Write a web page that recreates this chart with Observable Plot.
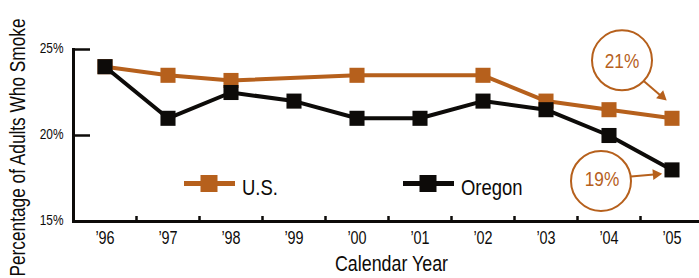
<!DOCTYPE html>
<html>
<head>
<meta charset="utf-8">
<script src="https://cdn.jsdelivr.net/npm/d3@7"></script>
<script src="https://cdn.jsdelivr.net/npm/@observablehq/plot@0.6"></script>
<style>
  html, body { margin: 0; padding: 0; background: #fff; }
  #wrap { position: relative; width: 699px; height: 278px; overflow: hidden; }
  #wrap svg { display: block; }
  #legend { position: absolute; left: 0; top: 0; pointer-events: none; }
</style>
</head>
<body>
<div id="wrap"></div>
<script>
// ---- data ----
const years = [1996, 1997, 1998, 1999, 2000, 2001, 2002, 2003, 2004, 2005];
const oregonValues = [24, 21, 22.5, 22, 21, 21, 22, 21.5, 20, 18];
const usYears = [1996, 1997, 1998, 2000, 2002, 2003, 2004, 2005];
const usValues = [24, 23.5, 23.2, 23.5, 23.5, 22, 21.5, 21];
const yTicks = [15, 20, 25];
const seriesNames = ["U.S.", "Oregon"];
const calloutLabels = ["21%", "19%"];
const xTitle = "Calendar Year";
const yTitle = "Percentage of Adults Who Smoke";

// ---- styles ----
const FONT = "'Liberation Sans', Arial, sans-serif";
const SQUEEZE = 0.82; // emulate a condensed face
const ORANGE = "#b6601c";
const BLACK = "#0d0b09";

const us = usYears.map((y, i) => ({year: y, value: usValues[i]}));
const oregon = years.map((y, i) => ({year: y, value: oregonValues[i]}));
const boundaries = years.slice(0, -1).map(y => y + 0.5);
const usLast = us[us.length - 1];
const orLast = oregon[oregon.length - 1];

const xDomain = [years[0] - 0.5, years[years.length - 1] + 0.5];
const xRange = [73, 703];
const yDomain = [15, 25];
const pxX = (xDomain[1] - xDomain[0]) / (xRange[1] - xRange[0]);
const pxY = (yDomain[1] - yDomain[0]) / (221 - 49);

const chart = Plot.plot({
  width: 699,
  height: 278,
  marginLeft: 73,
  marginRight: 0,
  marginTop: 49,
  marginBottom: 57,
  style: {fontFamily: FONT, color: BLACK, background: "#fff", overflow: "visible"},
  x: {domain: xDomain, range: xRange},
  y: {domain: yDomain},
  marks: [
    Plot.frame({anchor: "left", stroke: BLACK, strokeWidth: 3}),
    Plot.frame({anchor: "bottom", stroke: BLACK, strokeWidth: 3}),
    Plot.tickY([20, 25], {y: d => d, stroke: BLACK, strokeWidth: 2.5, insetRight: 699 - 73 - 17}),
    Plot.tickX(boundaries, {x: d => d, stroke: BLACK, strokeWidth: 2.5, insetTop: 172 - 5}),
    Plot.axisY({ticks: yTicks, tickFormat: d => d + "%", tickSize: 0, tickPadding: 10, fontSize: 14.5, label: null, dy: -1}),
    Plot.axisX({ticks: years, tickFormat: d => "\u2019" + String(d).slice(2), tickSize: 0, tickPadding: 10, fontSize: 17.5, label: null}),
    Plot.text([xTitle], {frameAnchor: "bottom", textAnchor: "middle", lineAnchor: "middle", dy: 43, dx: 5, fontSize: 21.5, fill: BLACK}),
    Plot.text([yTitle], {frameAnchor: "left", textAnchor: "start", lineAnchor: "middle", rotate: -90, dx: -56, dy: 141, fontSize: 22.5, fill: BLACK}),
    // series
    Plot.line(us, {x: "year", y: "value", stroke: ORANGE, strokeWidth: 4}),
    Plot.dot(us, {x: "year", y: "value", symbol: "square", r: 8.5, fill: ORANGE, stroke: "none"}),
    Plot.line(oregon, {x: "year", y: "value", stroke: BLACK, strokeWidth: 4}),
    Plot.dot(oregon, {x: "year", y: "value", symbol: "square", r: 8.5, fill: BLACK, stroke: "none"}),
    // callout: U.S.
    Plot.dot([usLast], {x: "year", y: "value", r: 30, stroke: ORANGE, strokeWidth: 2, fill: "none", dx: -50, dy: -58}),
    Plot.text([usLast], {x: "year", y: "value", text: () => calloutLabels[0], fill: ORANGE, fontSize: 21, dx: -50, dy: -57}),
    Plot.link([usLast], {
      x1: d => d.year - 28 * pxX, y1: d => d.value + 37 * pxY,
      x2: d => d.year - 10 * pxX, y2: d => d.value + 21.5 * pxY,
      stroke: ORANGE, strokeWidth: 2
    }),
    Plot.dot([usLast], {x: "year", y: "value", symbol: "triangle", r: 4, fill: ORANGE, stroke: "none", rotate: 131, dx: -10, dy: -22}),
    // callout: Oregon
    Plot.dot([orLast], {x: "year", y: "value", r: 30, stroke: ORANGE, strokeWidth: 2, fill: "none", dx: -71, dy: 11}),
    Plot.text([orLast], {x: "year", y: "value", text: () => calloutLabels[1], fill: ORANGE, fontSize: 21, dx: -70, dy: 9}),
    Plot.link([orLast], {
      x1: d => d.year - 41 * pxX, y1: d => d.value - 6.5 * pxY,
      x2: d => d.year - 18 * pxX, y2: d => d.value - 4.5 * pxY,
      stroke: ORANGE, strokeWidth: 2
    }),
    Plot.dot([orLast], {x: "year", y: "value", symbol: "triangle", r: 4, fill: ORANGE, stroke: "none", rotate: 85, dx: -16, dy: 4.5})
  ]
});

const wrap = document.getElementById("wrap");
wrap.appendChild(chart);

// legend overlay
const ns = "http://www.w3.org/2000/svg";
const leg = document.createElementNS(ns, "svg");
leg.setAttribute("id", "legend");
leg.setAttribute("width", 699);
leg.setAttribute("height", 278);
const items = [
  {name: seriesNames[0], color: ORANGE, x: 184},
  {name: seriesNames[1], color: BLACK, x: 403}
];
for (const it of items) {
  const l = document.createElementNS(ns, "line");
  l.setAttribute("x1", it.x); l.setAttribute("x2", it.x + 51);
  l.setAttribute("y1", 183.5); l.setAttribute("y2", 183.5);
  l.setAttribute("stroke", it.color); l.setAttribute("stroke-width", 5);
  leg.appendChild(l);
  const r = document.createElementNS(ns, "rect");
  r.setAttribute("x", it.x + 16.5); r.setAttribute("y", 175);
  r.setAttribute("width", 17); r.setAttribute("height", 17);
  r.setAttribute("fill", it.color);
  leg.appendChild(r);
  const t = document.createElementNS(ns, "text");
  t.setAttribute("x", it.x + 58); t.setAttribute("y", 194.5);
  t.style.fontFamily = FONT;
  t.setAttribute("font-size", 22.5);
  t.setAttribute("fill", BLACK);
  t.textContent = it.name;
  leg.appendChild(t);
}
wrap.appendChild(leg);

// condense every text horizontally (no condensed face is installed)
const targetLength = {[xTitle]: 113, [yTitle]: 258};
for (const t of wrap.querySelectorAll("text")) {
  const len = t.getComputedTextLength();
  if (len > 0) {
    const target = targetLength[t.textContent] ?? len * SQUEEZE;
    t.setAttribute("textLength", target.toFixed(1));
    t.setAttribute("lengthAdjust", "spacingAndGlyphs");
  }
}
</script>
</body>
</html>
